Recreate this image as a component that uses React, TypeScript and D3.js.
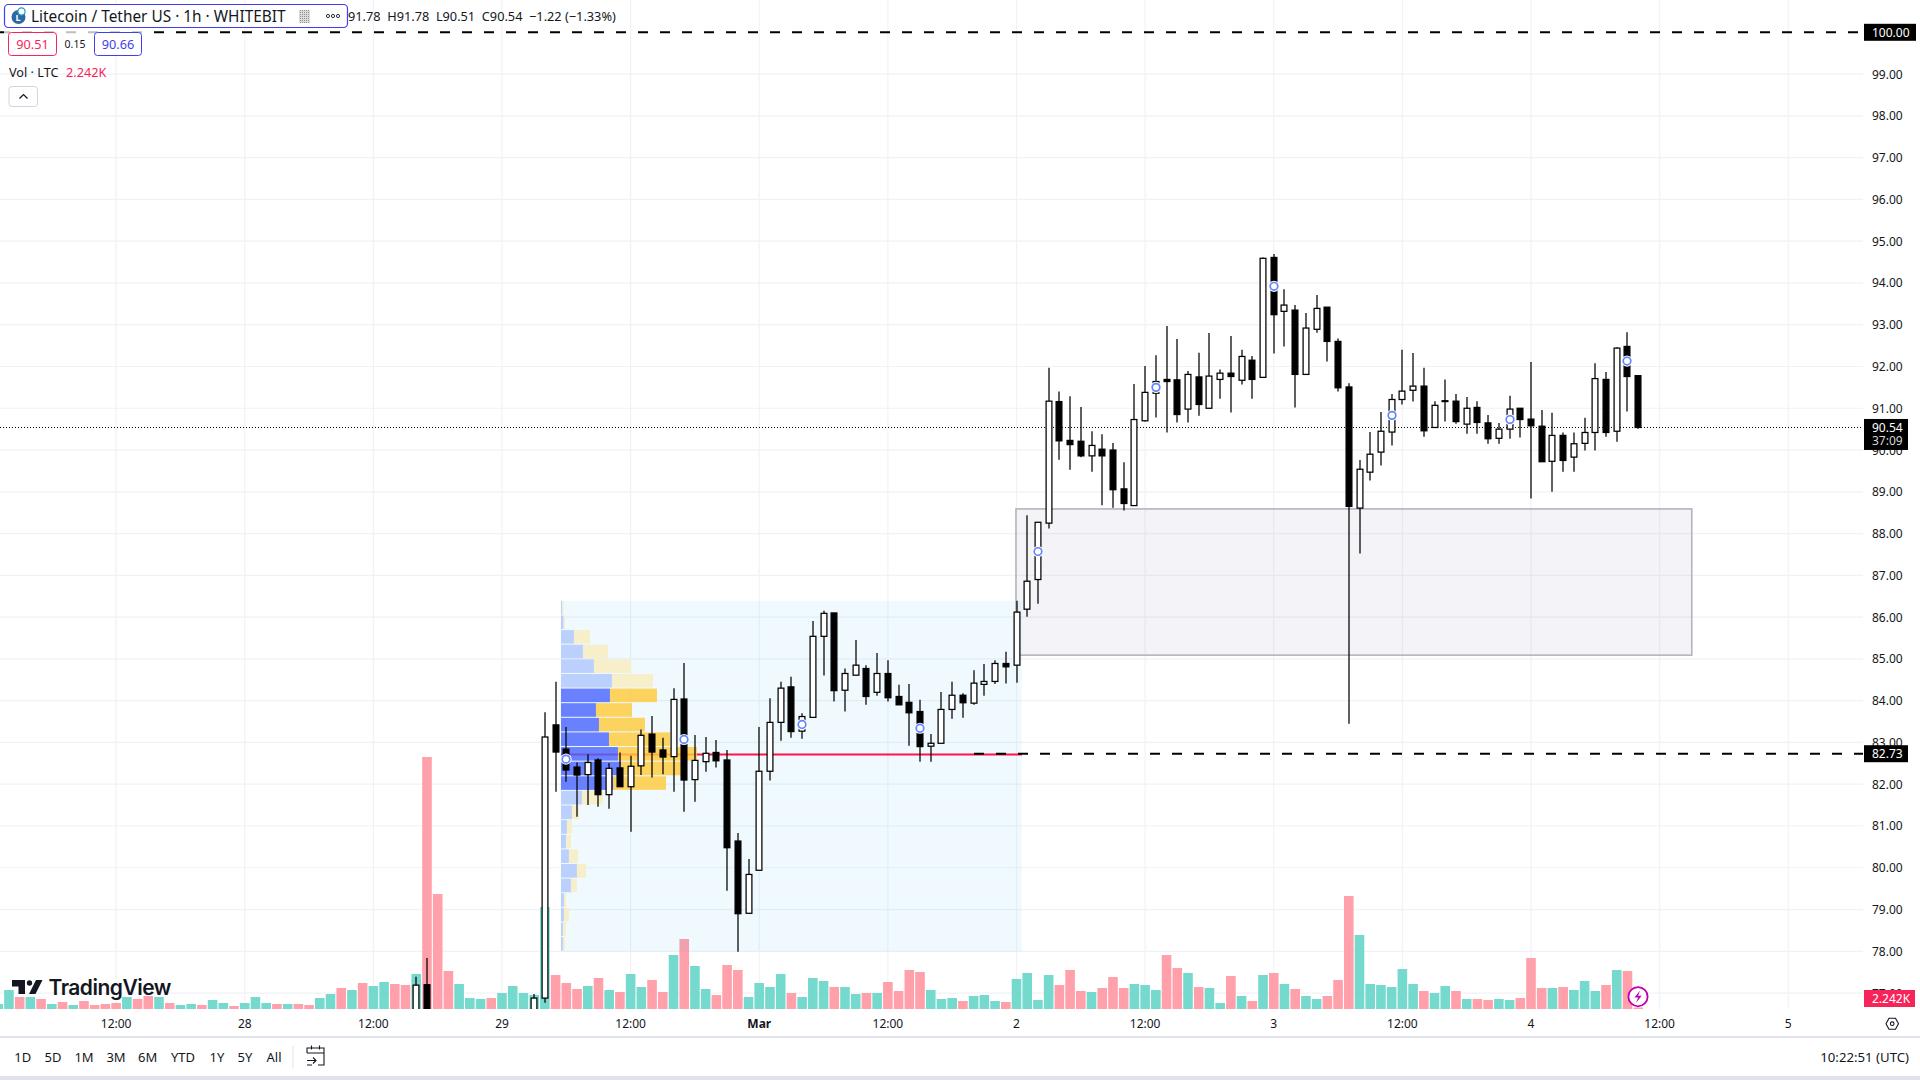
import * as d3 from 'd3';

const FONT = '"Noto Sans", sans-serif';

// hours counted from 29 Feb 00:00
const candleHours = [-8, -7, ...d3.range(3, 107)];
const opens = [
  76.0, 77.2,
  75.8, 76.88, 83.42, 82.84, 82.41, 82.23, 82.58, 81.75, 82.39, 81.94,
  82.44, 83.2, 82.82, 82.66, 84.04, 82.11, 82.54, 82.76, 82.58, 80.64,
  78.91, 79.94, 82.31, 83.48, 84.33, 83.27, 83.6, 85.54, 86.1, 84.25,
  84.61, 84.77, 84.2, 84.65, 84.1, 83.96, 83.74, 82.91, 82.98, 83.79,
  84.13, 83.94, 84.39, 84.46, 84.89, 84.85, 86.19, 86.9, 88.25, 91.16,
  90.23, 90.21, 89.86, 90.02, 90.0, 89.07, 88.67, 90.7, 91.36, 91.69,
  91.68, 90.98, 91.75, 91.0, 91.69, 91.84, 91.67, 92.15, 91.74, 94.61,
  93.32, 93.35, 91.81, 92.89, 93.42, 92.6, 91.51, 88.61, 89.47, 89.95,
  90.43, 91.21, 91.43, 91.53, 90.54, 91.18, 91.17, 90.62, 91.02, 90.65,
  90.28, 90.5, 91.0, 90.74, 90.57, 89.73, 90.35, 89.83, 90.16, 90.42,
  91.69, 90.45, 92.48, 91.78,
];
const highs = [
  77.39, 77.84,
  76.98, 83.72, 84.45, 83.37, 82.52, 82.72, 82.62, 82.51, 82.76, 82.68,
  83.31, 83.63, 83.11, 84.3, 84.9, 83.18, 83.13, 83.06, 82.82, 80.83,
  80.21, 83.37, 84.06, 84.45, 84.57, 83.7, 85.91, 86.15, 86.1, 84.77,
  85.45, 84.85, 85.14, 84.97, 84.38, 84.4, 84.02, 83.2, 84.21, 84.45,
  84.18, 84.73, 84.88, 84.97, 85.17, 86.39, 88.44, 88.27, 91.97, 91.4,
  91.29, 91.03, 90.45, 90.38, 90.17, 89.71, 91.58, 92.01, 92.27, 92.97,
  92.66, 91.89, 92.33, 92.8, 91.93, 92.73, 92.4, 92.25, 94.61, 94.69,
  93.85, 93.47, 93.28, 93.71, 93.42, 92.67, 91.6, 89.76, 90.43, 90.91,
  91.34, 92.4, 92.32, 91.97, 91.17, 91.69, 91.34, 91.27, 91.17, 90.84,
  90.65, 91.3, 91.0, 92.11, 90.96, 90.89, 90.42, 90.42, 90.77, 92.08,
  91.87, 92.46, 92.82, 91.78,
];
const lows = [
  75.8, 75.9,
  75.6, 76.77, 81.82, 82.06, 81.22, 81.5, 81.46, 81.41, 81.94, 80.86,
  82.22, 82.16, 82.24, 81.82, 81.34, 81.58, 82.3, 82.4, 79.45, 77.99,
  78.91, 79.94, 82.09, 83.04, 83.11, 83.09, 83.6, 84.6, 83.98, 83.74,
  84.61, 83.9, 84.12, 83.98, 83.9, 82.92, 82.54, 82.54, 82.98, 83.57,
  83.59, 83.9, 84.12, 84.4, 84.41, 84.43, 86.01, 86.32, 88.12, 89.77,
  89.53, 89.83, 89.48, 88.68, 88.62, 88.55, 88.67, 90.68, 90.78, 90.42,
  90.66, 90.66, 90.82, 91.0, 91.23, 90.9, 91.57, 91.23, 91.74, 92.31,
  92.48, 91.02, 91.81, 92.81, 92.12, 91.4, 83.45, 87.52, 89.27, 89.63,
  90.11, 91.09, 91.16, 90.32, 90.54, 90.68, 90.63, 90.39, 90.39, 90.15,
  90.15, 90.27, 90.3, 88.84, 89.72, 89.0, 89.48, 89.48, 89.99, 89.99,
  90.32, 90.2, 90.92, 90.51,
];
const closes = [
  77.19, 76.0,
  76.88, 83.13, 82.77, 82.34, 82.22, 82.52, 81.75, 82.38, 81.94, 82.43,
  83.17, 82.77, 82.65, 84.03, 82.1, 82.57, 82.74, 82.56, 80.48, 78.9,
  79.84, 82.31, 83.48, 84.3, 83.26, 83.62, 85.54, 86.09, 84.24, 84.65,
  84.85, 84.1, 84.65, 84.07, 83.9, 83.71, 82.9, 82.98, 83.79, 84.13,
  83.95, 84.42, 84.46, 84.89, 84.81, 86.12, 86.86, 88.27, 91.17, 90.22,
  90.13, 89.86, 90.11, 89.86, 89.05, 88.72, 90.73, 91.38, 91.64, 91.64,
  90.85, 91.81, 91.09, 91.77, 91.84, 91.76, 92.24, 91.69, 94.59, 93.24,
  93.47, 91.81, 92.92, 93.39, 92.6, 91.49, 88.65, 89.54, 89.9, 90.45,
  91.21, 91.41, 91.53, 90.46, 91.07, 91.16, 90.68, 91.0, 90.66, 90.27,
  90.5, 90.98, 90.73, 90.58, 89.72, 90.35, 89.75, 90.15, 90.42, 91.71,
  90.42, 92.44, 91.76, 90.54,
];

// volume in thousands of LTC, first bar is 27 Feb 01:00 (hour -47)
const firstVolumeHour = -47;
const volumes = [
  7.5, 28.5, 18, 18, 15, 7.5, 10.5, 6, 12, 6, 7.5, 9, 18, 15, 19.5, 18, 9, 6, 7.5, 6, 13.5, 9, 4.5, 9,
  18, 9, 7.5, 7.5, 7.5, 6, 16.5, 22.5, 31.5, 28.5, 39, 34.5, 40.5, 37.5, 36, 52.5, 378, 172.5, 57, 37.5, 16.5, 15, 16.5,
  24, 34.5, 24, 21, 153, 51, 39, 30, 34.5, 46.5,
  28.5, 25.5, 52.5, 33, 43.5, 25.5, 81, 105, 64.5, 30,
  21, 66, 58.5, 18, 39, 33, 52.5, 24, 18, 46.5,
  42, 33, 33, 22.5, 24, 24, 40.5, 27, 58.5, 55.5,
  28.5, 15, 16.5, 12, 19.5, 21, 12, 10.5, 45, 54,
  13.5, 51, 36, 58.5, 27, 25.5, 31.5, 48, 31.5, 37.5,
  36, 28.5, 81, 61.5, 54, 33, 31.5, 9, 49.5, 19.5,
  12, 51, 54, 37.5, 30, 19.5, 15, 19.5, 43.5, 169.5,
  111, 37.5, 36, 33, 60, 37.5, 27, 24, 34.5, 27,
  15, 15, 13.5, 15, 13.5, 16.5, 76.5, 31.5, 31.5, 33,
  28.5, 42, 27, 36, 58.5, 57, 2.242,
];
const volumeSides = (
  'ggrgrgrgrrrrgrrgrggrggrgggrgrrggrgrggrrgrrrgggr' +
  'gggggrrrgr' + 'grggrrgrgg' + 'rrrggggrgg' + 'grggrgrrrr' + 'gggrgggrgg' +
  'ggrrrgrrrg' + 'ggrrgrggrg' + 'rgrgrggrrr' + 'ggggggrggr' + 'grrggrrrgr' + 'gggrgrr'
).split('');

const priceTicks = d3.range(77, 100);
const timeTicks = [
  { hour: -36, label: '12:00' }, { hour: -24, label: '28' }, { hour: -12, label: '12:00' },
  { hour: 0, label: '29' }, { hour: 12, label: '12:00' }, { hour: 24, label: 'Mar', bold: true },
  { hour: 36, label: '12:00' }, { hour: 48, label: '2' }, { hour: 60, label: '12:00' },
  { hour: 72, label: '3' }, { hour: 84, label: '12:00' }, { hour: 96, label: '4' },
  { hour: 108, label: '12:00' }, { hour: 120, label: '5' },
];

// fixed range volume profile, rows from the top
const profileStart = 5.5;
const profileEnd = 48.5;
const profileTop = 86.39;
const profileRowSize = 0.35;
const profileUp = [4, 8, 39, 66, 99, 153, 147, 105, 114, 144, 171, 180, 157, 63, 33, 18, 15, 24, 48, 30, 9, 9, 6, 6];
const profileDown = [4, 4, 48, 75, 111, 123, 141, 108, 138, 183, 237, 180, 158, 63, 21, 15, 15, 27, 27, 18, 6, 15, 9, 6];
const valueAreaRows = [6, 12]; // first and last strong row
const pocPrice = 82.71;

const markerHours = [6, 17, 28, 39, 50, 61, 72, 83, 94, 105];
const markerPrices = [82.6, 83.07, 83.43, 83.34, 87.57, 91.5, 93.92, 90.83, 90.73, 92.13];

const zone = { fromHour: 47.95, toHour: 111, top: 88.59, bottom: 85.09 };
const lastPrice = 90.54;
const rangeButtons = ['1D', '5D', '1M', '3M', '6M', 'YTD', '1Y', '5Y', 'All'];
const rangeButtonX = [22.7, 53, 84, 116, 147.6, 183, 217, 245, 274];

const paneRight = 1863;
const paneBottom = 1009;

const x = d3.scaleLinear().domain([0, 96]).range([502, 1531]);
const y = d3.scaleLinear().domain([78, 100]).range([951.3, 32.3]);
const vy = d3.scaleLinear().domain([0, 378]).range([paneBottom, paneBottom - 252]);
const profileX = d3.scaleLinear().domain([0, 408]).range([x(profileStart), x(profileStart) + 136]);

const volGreen = '#72d8cc';
const volRed = '#ff9da8';
const red = '#f7245a';
const blue = '#3f3ff0';

const PriceTag = ({ price, label, width = 44 }: { price: number; label: string; width?: number }) => (
  <g>
    <rect x={1864} y={y(price) - 8.5} width={width} height={17} fill="#000" />
    <text x={1872} y={y(price) + 4.5} fontSize={12} fill="#fff">{label}</text>
  </g>
);

export default function App() {
  return (
    <svg
      width={1920}
      height={1080}
      style={{ position: 'fixed', left: 0, top: 0, background: '#fff' }}
      fontFamily={FONT}
    >
      <defs>
        <clipPath id="pane">
          <rect x={0} y={0} width={paneRight} height={paneBottom} />
        </clipPath>
        <pattern id="hatch" width={2} height={2} patternUnits="userSpaceOnUse">
          <rect width={2} height={2} fill="#dcdcdc" />
          <rect width={1} height={1} fill="#8f8f8f" />
        </pattern>
      </defs>

      {/* grid */}
      <g stroke="#f0f2f6" strokeWidth={1.2}>
        {priceTicks.map((p) => (
          <line key={p} x1={0} x2={paneRight} y1={y(p)} y2={y(p)} />
        ))}
        {timeTicks.map((t) => (
          <line key={t.hour} x1={x(t.hour)} x2={x(t.hour)} y1={0} y2={paneBottom} />
        ))}
      </g>

      <g clipPath="url(#pane)">
        {/* volume */}
        {volumes.map((v, i) => {
          const cx = x(firstVolumeHour + i);
          return (
            <rect
              key={i}
              x={cx - 4.8}
              y={vy(v)}
              width={9.6}
              height={paneBottom - vy(v)}
              fill={volumeSides[i] === 'g' ? volGreen : volRed}
              fillOpacity={0.97}
            />
          );
        })}

        {/* profile background and point of control */}
        <rect
          x={x(profileStart)}
          y={y(profileTop)}
          width={x(profileEnd) - x(profileStart)}
          height={y(profileTop - 24 * profileRowSize) - y(profileTop)}
          fill="#00a5f0"
          fillOpacity={0.06}
        />
        <line
          x1={x(profileStart)}
          x2={x(profileEnd)}
          y1={y(pocPrice)}
          y2={y(pocPrice)}
          stroke="#ff1248"
          strokeWidth={2}
        />
        {profileUp.map((u, i) => {
          const top = y(profileTop - i * profileRowSize);
          const strong = i >= valueAreaRows[0] && i <= valueAreaRows[1];
          const h = y(profileTop - (i + 1) * profileRowSize) - top - 1;
          const mid = profileX(u);
          return (
            <g key={i} fillOpacity={strong ? 0.82 : 1}>
              <rect x={profileX(0)} y={top} width={mid - profileX(0)} height={h} fill={strong ? '#4a66ff' : '#bcd0fd'} />
              <rect x={mid} y={top} width={profileX(u + profileDown[i]) - mid} height={h} fill={strong ? '#ffca3d' : '#f6efc9'} />
            </g>
          );
        })}

        {/* zone box */}
        <rect
          x={x(zone.fromHour)}
          y={y(zone.top)}
          width={x(zone.toHour) - x(zone.fromHour)}
          height={y(zone.bottom) - y(zone.top)}
          fill="#6a6a9a"
          fillOpacity={0.07}
          stroke="#b2b5be"
          strokeWidth={1.6}
        />

        {/* level lines */}
        <line x1={0} x2={paneRight} y1={y(100)} y2={y(100)} stroke="#000" strokeWidth={2} strokeDasharray="10 12" />
        <line x1={974} x2={paneRight} y1={y(82.73)} y2={y(82.73)} stroke="#000" strokeWidth={2} strokeDasharray="10 12" />
        <line x1={0} x2={paneRight} y1={y(lastPrice)} y2={y(lastPrice)} stroke="#000" strokeWidth={1} strokeDasharray="1 2" />

        {/* candles */}
        {candleHours.map((h, i) => {
          const cx = Math.round(x(h));
          const up = closes[i] > opens[i];
          const top = y(Math.max(opens[i], closes[i]));
          const bottom = y(Math.min(opens[i], closes[i]));
          return (
            <g key={h}>
              <line x1={cx} x2={cx} y1={y(highs[i])} y2={y(lows[i])} stroke="#000" strokeWidth={1.25} />
              <rect
                x={cx - 2.9}
                y={top}
                width={5.8}
                height={Math.max(bottom - top, 0.6)}
                fill={up ? '#fff' : '#000'}
                stroke="#000"
                strokeWidth={1.25}
              />
            </g>
          );
        })}

        {/* markers */}
        {markerHours.map((h, i) => (
          <g key={h}>
            <circle cx={Math.round(x(h))} cy={y(markerPrices[i])} r={5.6} fill="#fff" />
            <circle cx={Math.round(x(h))} cy={y(markerPrices[i])} r={3.8} fill="#fff" stroke="#6285ff" strokeWidth={1.7} />
          </g>
        ))}
      </g>

      {/* price axis */}
      <g fontSize={12} fill="#131722">
        {priceTicks.map((p) => (
          <text key={p} x={1872} y={y(p) + 4.5}>{d3.format('.2f')(p)}</text>
        ))}
      </g>
      <PriceTag price={100} label="100.00" width={52} />
      <PriceTag price={82.73} label="82.73" />
      <rect x={1864} y={y(lastPrice) - 8.5} width={44} height={31} fill="#000" />
      <text x={1872} y={y(lastPrice) + 4.5} fontSize={12} fill="#fff">90.54</text>
      <text x={1872} y={y(lastPrice) + 18} fontSize={12} fill="#d6d6d6">37:09</text>
      <rect x={1864} y={990} width={51} height={17} fill={red} />
      <text x={1872} y={1003} fontSize={12} fill="#fff">2.242K</text>

      {/* time axis */}
      <g fontSize={12} fill="#131722" textAnchor="middle">
        {timeTicks.map((t) => (
          <text key={t.hour} x={x(t.hour)} y={1027.5} fontWeight={t.bold ? 700 : 400}>{t.label}</text>
        ))}
      </g>
      <path
        d="M1886 1023.7l3-5.5h6.5l3 5.5-3 5.5h-6.5z"
        fill="none"
        stroke="#131722"
        strokeWidth={1.1}
      />
      <circle cx={1892.2} cy={1023.7} r={1.8} fill="none" stroke="#131722" strokeWidth={1.1} />

      {/* lightning badge */}
      <circle cx={1638} cy={996.7} r={9.6} fill="#fff" stroke="#c000b0" strokeWidth={1.8} />
      <path d="M1640 990.5l-5.5 7h3.6l-2 5.2 5.6-7h-3.6z" fill="#c000b0" />

      {/* logo */}
      <g fill="#131722">
        <path d="M12 980h13v14h-6.5v-7.6H12z" />
        <circle cx={29.5} cy={983} r={2.7} />
        <path d="M36 980h6.5L35.5 994H29z" />
        <text x={48.5} y={995} fontSize={21} fontWeight={600} fontFamily="Inter, sans-serif" letterSpacing={-0.5}>TradingView</text>
      </g>

      {/* legend */}
      <rect x={4} y={28} width={141} height={6} fill="#fff" fillOpacity={0.75} />
      <rect x={4.5} y={4.5} width={343} height={23} rx={4} fill="#fff" stroke={blue} strokeWidth={1.2} />
      <circle cx={18.5} cy={17} r={7} fill="#2a6aa0" />
      <circle cx={21.5} cy={11.5} r={3.6} fill="#fff" stroke="#2a95c8" strokeWidth={1.2} />
      <text x={18} y={21} fontSize={9} fontWeight={700} fill="#fff" textAnchor="middle">L</text>
      <text x={31} y={21.5} fontSize={15.4} fill="#131722">Litecoin / Tether US · 1h · WHITEBIT</text>
      <rect x={299} y={10} width={11} height={13} fill="url(#hatch)" />
      <g fill="none" stroke="#131722" strokeWidth={0.9}>
        <circle cx={328} cy={16} r={1.6} />
        <circle cx={333} cy={16} r={1.6} />
        <circle cx={338} cy={16} r={1.6} />
      </g>
      <text x={348} y={21} fontSize={12.75} fill="#131722" xmlSpace="preserve">91.78  H91.78  L90.51  C90.54  −1.22 (−1.33%)</text>

      <rect x={8.5} y={32.5} width={48} height={23} rx={3} fill="#fff" stroke={red} />
      <text x={32.5} y={48.5} fontSize={12.7} fill={red} textAnchor="middle">90.51</text>
      <text x={75} y={48} fontSize={10.5} fill="#131722" textAnchor="middle">0.15</text>
      <rect x={94.5} y={32.5} width={47} height={23} rx={3} fill="#fff" stroke={blue} />
      <text x={118} y={48.5} fontSize={12.7} fill={blue} textAnchor="middle">90.66</text>

      <text x={9} y={76.5} fontSize={12.7} fill="#131722">Vol · LTC</text>
      <text x={66} y={76.5} fontSize={12.7} fill={red}>2.242K</text>
      <rect x={9} y={86.5} width={28.5} height={20} rx={3} fill="#fff" stroke="#d1d4dc" />
      <path d="M19.5 98.5l4-4 4 4" fill="none" stroke="#131722" strokeWidth={1.2} />

      {/* bottom toolbar */}
      <line x1={0} x2={1920} y1={1037} y2={1037} stroke="#e0e3eb" strokeWidth={2} />
      <g fontSize={13} fill="#131722" textAnchor="middle">
        {rangeButtons.map((b, i) => (
          <text key={b} x={rangeButtonX[i]} y={1062}>{b}</text>
        ))}
      </g>
      <line x1={293} x2={293} y1={1046} y2={1068} stroke="#e0e3eb" />
      <path
        d="M307 1053v-5h17v17h-6M307 1053h17M311.5 1045.5v4M319.5 1045.5v4M307 1060.5h9M313 1057.5l3 3-3 3M307 1065h5"
        fill="none"
        stroke="#131722"
        strokeWidth={1.1}
      />
      <text x={1909} y={1062} fontSize={13.2} fill="#131722" textAnchor="end">10:22:51 (UTC)</text>
      <rect x={0} y={1076} width={1920} height={4} fill="#e0e3eb" />
    </svg>
  );
}
